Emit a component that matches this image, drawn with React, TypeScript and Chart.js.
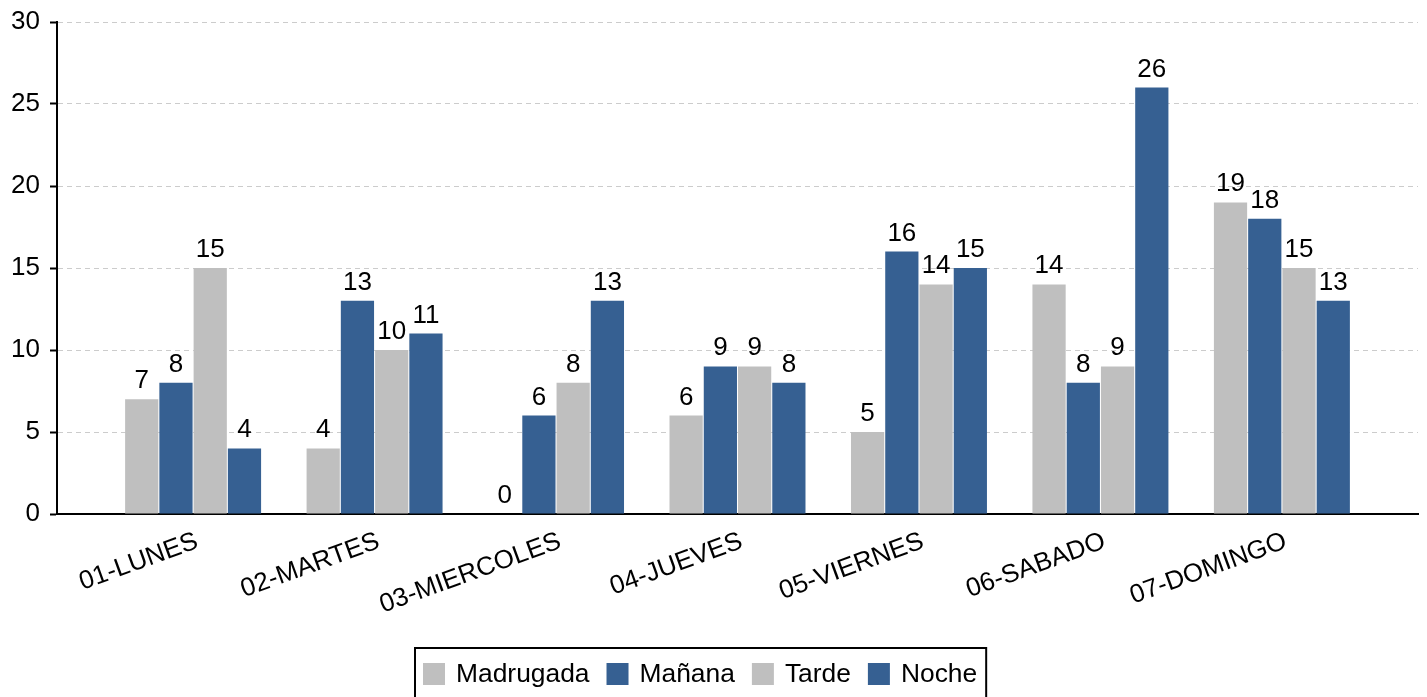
import React, { useEffect, useRef } from "react";
import { Chart, registerables } from "chart.js";

Chart.register(...registerables);

const days = ["01-LUNES", "02-MARTES", "03-MIERCOLES", "04-JUEVES", "05-VIERNES", "06-SABADO", "07-DOMINGO"];
const madrugada = [7, 4, 0, 6, 5, 14, 19];
const manana = [8, 13, 6, 9, 16, 8, 18];
const tarde = [15, 10, 8, 9, 14, 9, 15];
const noche = [4, 11, 13, 8, 15, 26, 13];
const seriesNames = ["Madrugada", "Mañana", "Tarde", "Noche"];
const yTicks = [0, 5, 10, 15, 20, 25, 30];

const GRAY = "#BFBFBF";
const BLUE = "#366092";
const FONT = "'Liberation Sans', Arial, Helvetica, sans-serif";

const dataLabels = {
  id: "dataLabels",
  afterDatasetsDraw(chart: any) {
    const ctx = chart.ctx;
    ctx.save();
    ctx.font = `26px ${FONT}`;
    ctx.fillStyle = "#000";
    ctx.textAlign = "center";
    ctx.textBaseline = "alphabetic";
    chart.data.datasets.forEach((ds: any, i: number) => {
      const meta = chart.getDatasetMeta(i);
      meta.data.forEach((el: any, j: number) => {
        const v = ds.data[j].y;
        ctx.fillText(String(v), el.x, el.y - 11);
      });
    });
    ctx.restore();
  },
};

const boxedLegend = {
  id: "boxedLegend",
  afterDraw(chart: any) {
    const ctx = chart.ctx;
    ctx.save();
    ctx.font = `26.4px ${FONT}`;
    const sw = 22;
    const padL = 9;
    const padR = 10;
    const gapText = 11;
    const gapItem = 17;
    const ds = chart.data.datasets;
    const widths = ds.map((d: any) => ctx.measureText(d.label).width);
    let total = padL + padR;
    widths.forEach((w: number, i: number) => {
      total += sw + gapText + w + (i < widths.length - 1 ? gapItem : 0);
    });
    const center = chart.width / 2 - 12.5;
    const left = Math.round(center - total / 2);
    const top = 647;
    ctx.strokeStyle = "#000";
    ctx.lineWidth = 2;
    ctx.strokeRect(left + 1, top + 1, total - 2, 200);
    let x = left + padL;
    const midY = top + 27;
    ds.forEach((d: any, i: number) => {
      ctx.fillStyle = d.backgroundColor;
      ctx.fillRect(x, midY - sw / 2, sw, sw);
      x += sw + gapText;
      ctx.fillStyle = "#000";
      ctx.textAlign = "left";
      ctx.textBaseline = "middle";
      ctx.fillText(d.label, x, midY + 1);
      x += widths[i] + gapItem;
    });
    ctx.restore();
  },
};

export default function App() {
  const ref = useRef<HTMLCanvasElement>(null);

  useEffect(() => {
    if (!ref.current) return;
    const mk = (arr: number[]) => arr.map((v, i) => ({ x: i, y: v }));
    const colors = [GRAY, BLUE, GRAY, BLUE];
    const values = [madrugada, manana, tarde, noche];
    const chart = new Chart(ref.current, {
      type: "bar",
      data: {
        datasets: values.map((arr, k) => ({
          label: seriesNames[k],
          data: mk(arr),
          backgroundColor: colors[k],
          borderWidth: 0,
          categoryPercentage: 0.755,
          barPercentage: 0.97,
        })),
      },
      options: {
        responsive: false,
        animation: false,
        layout: { padding: { top: 22, right: 9, left: 0, bottom: 73 } },
        plugins: {
          legend: { display: false },
          tooltip: { enabled: false },
        },
        scales: {
          x: {
            type: "linear",
            offset: false,
            min: -0.75,
            max: 6.75,
            afterBuildTicks: (axis: any) => {
              axis.ticks = days.map((_, i) => ({ value: i }));
            },
            afterFit: (s: any) => {
              s.height = 110;
            },
            grid: { display: false },
            border: { display: true, color: "#000", width: 2 },
            ticks: {
              autoSkip: false,
              minRotation: 20,
              maxRotation: 20,
              padding: 4,
              labelOffset: 4,
              color: "#000",
              font: { family: FONT, size: 26 },
              callback: (v: any) => days[v] ?? "",
            },
          },
          y: {
            min: 0,
            max: 30,
            afterBuildTicks: (axis: any) => {
              axis.ticks = yTicks.map((v) => ({ value: v }));
            },
            afterFit: (s: any) => {
              s.width = 57;
              s.paddingTop = 0;
              s.paddingBottom = 0;
            },
            grid: {
              color: "#cccccc",
              lineWidth: 1,
              drawTicks: true,
              tickLength: 7,
              tickColor: "#000",
              tickWidth: 2,
              tickBorderDash: [],
            },
            border: { display: true, color: "#000", width: 2, dash: [5, 4] },
            ticks: {
              padding: 10,
              color: "#000",
              font: { family: FONT, size: 26 },
            },
          },
        },
      },
      plugins: [dataLabels, boxedLegend],
    } as any);
    return () => chart.destroy();
  }, []);

  return (
    <div style={{ position: "absolute", left: 0, top: 0, width: 1427, height: 697, background: "#fff" }}>
      <canvas ref={ref} width={1427} height={697} style={{ display: "block" }} />
    </div>
  );
}
